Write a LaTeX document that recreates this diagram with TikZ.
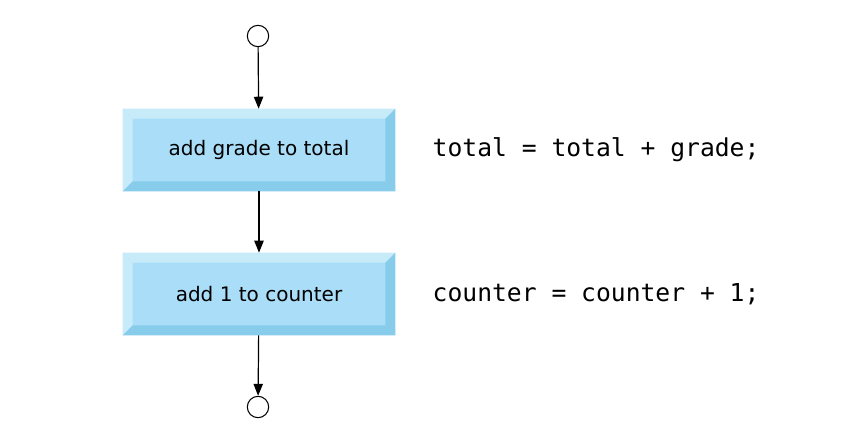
\documentclass[tikz,border=0pt]{standalone}
\usepackage{fontspec}
\setsansfont{DejaVu Sans}
\setmonofont{DejaVu Sans Mono}
\usetikzlibrary{calc,positioning,arrows.meta}
\definecolor{boxface}{RGB}{170,222,248}
\definecolor{boxlight}{RGB}{200,235,250}
\definecolor{boxdark}{RGB}{135,205,235}
\tikzset{
  action/.style={fill=boxface,minimum width=204pt,minimum height=61.5pt,inner sep=0pt,font=\sffamily\fontsize{15}{18}\selectfont},
  terminal/.style={draw,circle,fill=white,minimum size=16pt,inner sep=0pt,line width=0.8pt},
  flow/.style={-{Triangle[length=9pt,width=7pt]},line width=0.9pt},
  code/.style={anchor=west,font=\ttfamily\fontsize{18.5}{22}\selectfont}
}
\newcommand{\bevel}[1]{%
  \fill[boxlight] (#1.north west) -- (#1.north east) -- ($(#1.north east)+(-7.5pt,-7.5pt)$) -- ($(#1.north west)+(7.5pt,-7.5pt)$) -- cycle;
  \fill[boxlight] (#1.north west) -- (#1.south west) -- ($(#1.south west)+(7.5pt,7.5pt)$) -- ($(#1.north west)+(7.5pt,-7.5pt)$) -- cycle;
  \fill[boxdark] (#1.south west) -- (#1.south east) -- ($(#1.south east)+(-7.5pt,7.5pt)$) -- ($(#1.south west)+(7.5pt,7.5pt)$) -- cycle;
  \fill[boxdark] (#1.north east) -- (#1.south east) -- ($(#1.south east)+(-7.5pt,7.5pt)$) -- ($(#1.north east)+(-7.5pt,-7.5pt)$) -- cycle;}
\begin{document}
\begin{tikzpicture}[x=0.75pt,y=-0.75pt]
\useasboundingbox (0,0) rectangle (849,445);
\node [terminal] (start) at (258,36) {};
\node [action] (grade) at (259,150) {};
\bevel{grade}
\node [action,fill=none] at (grade) {add grade to total};
\node [action] (counter) at (259,294) {};
\bevel{counter}
\node [action,fill=none] at (counter) {add 1 to counter};
\node [terminal] (stop) at (258,407) {};
\draw [flow] (start) -- (grade);
\draw [flow] (grade) -- (counter);
\draw [flow] (counter) -- (stop);
\node [code] (c1) at (428,150) {total = total + grade;};
\node [code] (c2) at (428,294) {counter = counter + 1;};
\end{tikzpicture}
\end{document}
